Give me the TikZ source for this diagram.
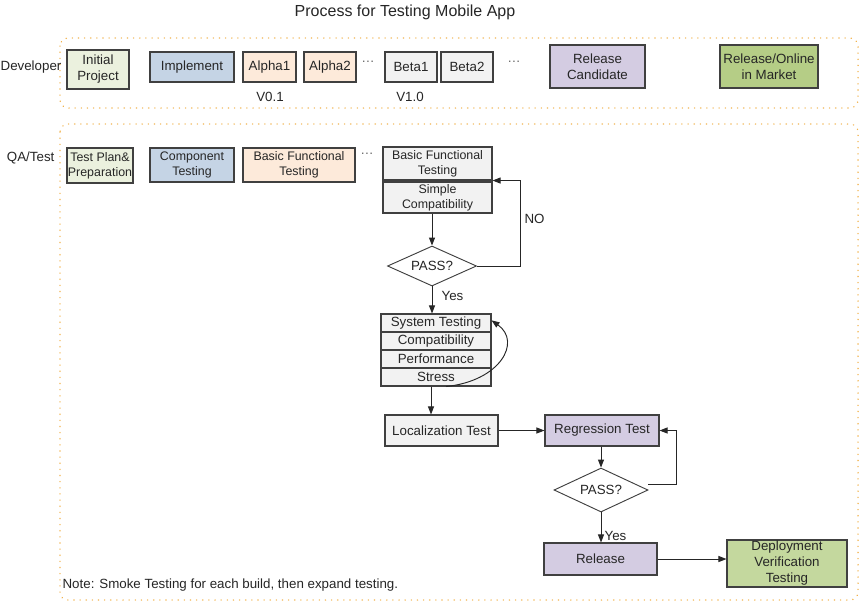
\documentclass[tikz,border=0pt]{standalone}
\usepackage{fontspec}
\setmainfont{Liberation Sans}
\usetikzlibrary{arrows.meta,shapes.geometric}
\definecolor{lanec}{HTML}{F2B24A}
\definecolor{bordc}{HTML}{404040}
\definecolor{cgreenl}{HTML}{EBF1DE}
\definecolor{cblue}{HTML}{C5D4E5}
\definecolor{cpeach}{HTML}{FDEADA}
\definecolor{cgray}{HTML}{F2F2F2}
\definecolor{clav}{HTML}{D4CCE2}
\definecolor{cgreen}{HTML}{B5CD86}
\definecolor{cgreen2}{HTML}{C4D89E}
\begin{document}
\begin{tikzpicture}[x=0.75pt,y=-0.75pt,
  every node/.style={font=\fontsize{10}{12}\selectfont, text=black!85},
  sz/.style 2 args={minimum width=#1*0.75pt, minimum height=#2*0.75pt},
  box/.style={draw=bordc, line width=0.8pt, inner sep=0pt, align=center},
  smallt/.style={font=\fontsize{9.3}{11.5}\selectfont},
  dia/.style={draw=bordc, line width=0.7pt, diamond, inner sep=0pt, aspect=2.2},
  lane/.style={draw=lanec, line width=1.1pt, dash pattern=on 0.1pt off 4.5pt, line cap=round, rounded corners=6pt},
  arr/.style={draw=black!85, line width=0.7pt, -{Triangle[length=6pt,width=4.5pt]}},
  lbl/.style={inner sep=1pt}
]
\useasboundingbox (0,0) rectangle (862,604);
\fill[white] (0,0) rectangle (862,604);

\node[font=\fontsize{12}{14}\selectfont] (title) at (405,12) {Process for Testing Mobile App};

% lanes
\draw[lane] (60,38) rectangle (858,108);
\draw[lane] (60,124) rectangle (858,600);
\node[lbl, anchor=east] (devl) at (63,67) {Developer};
\node[lbl, anchor=east] (qal) at (56,158) {QA/Test};

% developer row
\node[box, fill=cgreenl, sz={62}{39}] (initp) at (98,69.5) {Initial\\Project};
\node[box, fill=cblue, sz={84}{30}] (impl) at (192,67) {Implement};
\node[box, fill=cpeach, sz={53}{30}] (a1) at (269.5,67) {Alpha1};
\node[box, fill=cpeach, sz={52}{30}] (a2) at (330,67) {Alpha2};
\node[lbl, text=black!60] (d1) at (368,62) {…};
\node[box, fill=cgray, sz={52}{30}] (b1) at (411,67) {Beta1};
\node[box, fill=cgray, sz={52}{30}] (b2) at (467,67) {Beta2};
\node[lbl, text=black!60] (d2) at (514,62) {…};
\node[lbl] (v01) at (270,97) {V0.1};
\node[lbl] (v10) at (410,97) {V1.0};
\node[box, fill=clav, sz={95}{43}] (rc) at (597.5,66.5) {Release\\Candidate};
\node[box, fill=cgreen, sz={98}{43}] (rom) at (769,66.5) {Release/Online\\in Market};

% QA row
\node[box, smallt, fill=cgreenl, sz={66}{35}] (tpp) at (100,165.5) {Test Plan\&\\Preparation};
\node[box, smallt, fill=cblue, sz={84}{34}] (comp) at (192,165) {Component\\Testing};
\node[box, smallt, fill=cpeach, sz={112}{34}] (bft1) at (299,165) {Basic Functional\\Testing};
\node[lbl, text=black!60] (d3) at (367,154) {…};
\node[box, smallt, fill=cgray, sz={109}{33}] (bft2) at (437.5,163.5) {Basic Functional\\Testing};
\node[box, smallt, fill=cgray, sz={109}{31}] (sc) at (437.5,197.5) {Simple\\Compatibility};

\node[dia, sz={89}{40}] (pass1) at (432,266) {PASS?};

\node[box, fill=cgray, sz={110}{18}] (st) at (436,323) {System Testing};
\node[box, fill=cgray, sz={110}{18}] (cp) at (436,341) {Compatibility};
\node[box, fill=cgray, sz={110}{18}] (pf) at (436,359) {Performance};
\node[box, fill=cgray, sz={110}{18}] (ss) at (436,377) {Stress};

\node[box, fill=cgray, sz={113}{31}] (loc) at (441.5,430.5) {Localization Test};
\node[box, fill=clav, sz={114}{31}] (reg) at (602,430.5) {Regression Test};
\node[dia, sz={94}{44}] (pass2) at (601,490) {PASS?};
\node[box, fill=clav, sz={113}{32}] (rel) at (600.5,559) {Release};
\node[box, fill=cgreen2, sz={120}{47}] (dep) at (787,563.5) {Deployment\\Verification\\Testing};

\node[lbl, anchor=west] (note) at (61,585) {Note: Smoke Testing for each build, then expand testing.};

% connectors
\draw[arr] (sc.south -| pass1.north) -- (pass1.north);
\draw[arr] (pass1.east) -- ++(43,0) |- (bft2.south east);
\node[lbl, anchor=west] (nol) at (523,219) {NO};
\draw[arr] (pass1.south) -- (pass1.south |- st.north);
\node[lbl, anchor=west] (yes1) at (440,296) {Yes};
\draw[arr] ([xshift=7.5]ss.south) .. controls (500,381) and (522,342) .. ([yshift=2]st.east);
\draw[arr] (ss.south -| 431,0) -- (loc.north -| 431,0);
\draw[arr] (loc.east) -- (reg.west);
\draw[arr] (reg.south -| pass2.north) -- (pass2.north);
\draw[arr] ([yshift=4]pass2.east) -- ++(28,0) |- (reg.east);
\draw[arr] (pass2.south) -- (pass2.south |- rel.north);
\node[lbl, anchor=west] (yes2) at (603,536) {Yes};
\draw[arr] (rel.east) -- (rel.east -| dep.west);
\end{tikzpicture}
\end{document}
